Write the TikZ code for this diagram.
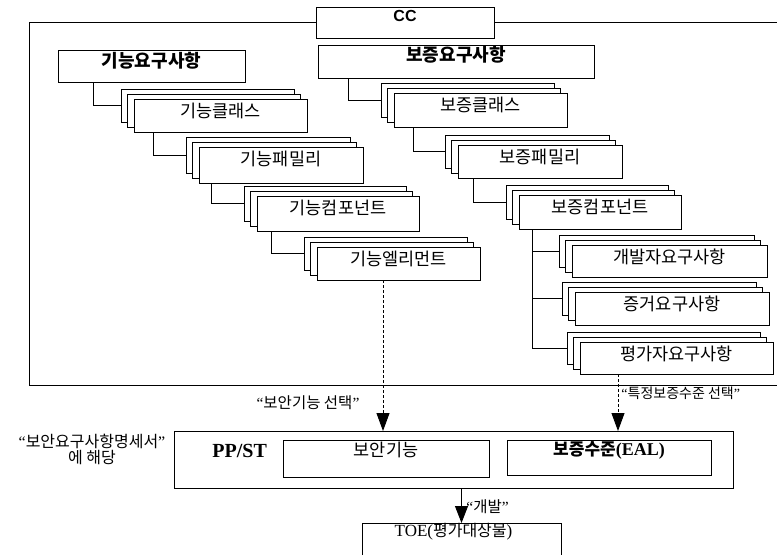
\documentclass[tikz,border=0pt]{standalone}
\usepackage{fontspec}
\setmainfont{Liberation Serif}
\newfontfamily\krfont{Noto Sans CJK KR}
\newfontfamily\arialfont{Liberation Sans}
\usetikzlibrary{calc,arrows.meta}
\newcommand\mkstack[6]{%
  \node[sbox,minimum width={#4-#2},minimum height={#5-#3}] (#1-b) at (#2-13,#3-10) {};
  \node[sbox,minimum width={#4-#2},minimum height={#5-#3}] (#1-m) at (#2-6.5,#3-5) {};
  \node[sbox,minimum width={#4-#2},minimum height={#5-#3}] (#1) at (#2,#3) {};
  \node[lbl] (#1-t) at ($(#1.north)+(0,12)$) {#6};
}
\begin{document}
\begin{tikzpicture}[x=1pt,y=-1pt,
  line width=0.9pt,
  sbox/.style={draw,fill=white,anchor=north west,inner sep=0pt,outer sep=0pt},
  lbl/.style={inner sep=0pt,font=\krfont\fontsize{17.5}{19}\selectfont},
  blbl/.style={inner sep=0pt,font=\krfont\bfseries\fontsize{18}{20}\selectfont},
  note/.style={inner sep=0pt,font=\krfont\fontsize{15.5}{17}\selectfont},
  conn/.style={line width=0.9pt},
  dasharrow/.style={line width=0.9pt,dash pattern=on 3pt off 2pt,-{Triangle[width=13pt,length=18pt]}},
  solidarrow/.style={line width=0.9pt,-{Triangle[width=13pt,length=17pt]}}]
\useasboundingbox (0,0) rectangle (777,555);

% CC title box and frame
\node[sbox,minimum width=178,minimum height=31] (cc) at (316,7) {};
\node[inner sep=0pt,font=\arialfont\bfseries\fontsize{16}{18}\selectfont] (cc-t) at ($(cc.north)+(0,9)$) {CC};
\coordinate (frTL) at (29,22.5);
\coordinate (frBL) at (29,385);
\coordinate (frBR) at (777,385);
\coordinate (frTR) at (777,22.5);
\draw (cc.west) -- (frTL) -- (frBL) -- (frBR);
\draw (cc.east) -- (frTR);

% top-level requirement boxes
\node[sbox,minimum width=187,minimum height=32] (freq) at (58,50) {};
\node[blbl] (freq-t) at ($(freq.north)+(0,11)$) {기능요구사항};
\node[sbox,minimum width=276,minimum height=33] (areq) at (318,45) {};
\node[blbl] (areq-t) at ($(areq.north)+(0,10)$) {보증요구사항};

% functional stacks
\mkstack{fcls}{134}{99}{307}{132}{기능클래스}
\mkstack{ffam}{199}{147}{363}{183}{기능패밀리}
\mkstack{fcmp}{257}{196}{419}{231}{기능컴포넌트}
\mkstack{fele}{317}{247}{480}{280}{기능엘리먼트}

% assurance stacks
\mkstack{acls}{394}{93}{567}{127}{보증클래스}
\mkstack{afam}{458}{145}{622}{178}{보증패밀리}
\mkstack{acmp}{519}{195}{681}{229}{보증컴포넌트}
\mkstack{adev}{572}{245}{767}{277}{개발자요구사항}
\mkstack{aevi}{575}{292}{769}{325}{증거요구사항}
\mkstack{aeva}{580}{342}{773}{374}{평가자요구사항}

% elbow connectors
\draw[conn] ($(freq.south west)+(35,0)$) |- (fcls-b.west);
\draw[conn] ($(fcls.south west)+(19,0)$) |- (ffam-b.west);
\draw[conn] ($(ffam.south west)+(12,0)$) |- (fcmp-b.west);
\draw[conn] ($(fcmp.south west)+(14,0)$) |- (fele-b.west);
\draw[conn] ($(areq.south west)+(30,0)$) |- (acls-b.west);
\draw[conn] ($(acls.south west)+(19,0)$) |- (afam-b.west);
\draw[conn] ($(afam.south west)+(15,0)$) |- (acmp-b.west);
\coordinate (trunk) at ($(acmp.south west)+(13,0)$);
\draw[conn] (trunk) |- (aeva-b.west);
\draw[conn] (trunk |- adev-b.west) -- (adev-b.west);
\draw[conn] (trunk |- aevi-b.west) -- (aevi-b.west);

% PP/ST box
\node[sbox,minimum width=559,minimum height=57] (ppst) at (174,431) {};
\node[inner sep=0pt,anchor=west,font=\bfseries\fontsize{20}{22}\selectfont] (ppst-t) at (212,451) {PP/ST};
\node[sbox,minimum width=206,minimum height=37] (secf) at (283,440) {};
\node[lbl] (secf-t) at ($(secf.north)+(0,10)$) {보안기능};
\node[sbox,minimum width=204,minimum height=35] (eal) at (507,440) {};
\node[inner sep=0pt] (eal-t) at ($(eal.north)+(0,10)$) {{\krfont\bfseries\fontsize{17}{19}\selectfont 보증수준}{\bfseries\fontsize{18}{20}\selectfont (EAL)}};

% TOE box (open at the bottom edge of the picture)
\node[anchor=north west,inner sep=0pt,outer sep=0pt,minimum width=199,minimum height=32] (toe) at (362,523) {};
\draw (toe.south west) -- (toe.north west) -- (toe.north east) -- (toe.south east);
\node[inner sep=0pt] (toe-t) at ($(toe.north)+(-8,9)$) {{\fontsize{17}{19}\selectfont TOE(}{\krfont\fontsize{16}{18}\selectfont 평가대상물}{\fontsize{17}{19}\selectfont )}};

% arrows
\coordinate (fele-out) at ($(fele.south west)+(66,0)$);
\draw[dasharrow] (fele-out) -- (fele-out |- ppst.north);
\coordinate (aeva-out) at ($(aeva.south west)+(38,0)$);
\draw[dasharrow] (aeva-out) -- (aeva-out |- ppst.north);
\coordinate (dev-out) at (ppst.south -| toe.north);
\draw[solidarrow] (dev-out) -- (toe.north);

% notes
\node[note] (n-sel) at (308,403) {{\rmfamily “}보안기능 선택{\rmfamily ”}};
\node[note,anchor=west,font=\krfont\fontsize{14}{15}\selectfont] (n-lvl) at (621,393) {{\rmfamily “}특정보증수준 선택{\rmfamily ”}};
\node[note,anchor=west] (n-dev) at (466,507) {{\rmfamily “}개발{\rmfamily ”}};
\node[note,align=center,font=\krfont\fontsize{16}{16}\selectfont] (n-spec) at (92,449) {{\rmfamily “}보안요구사항명세서{\rmfamily ”}\\에 해당};
\end{tikzpicture}
\end{document}
